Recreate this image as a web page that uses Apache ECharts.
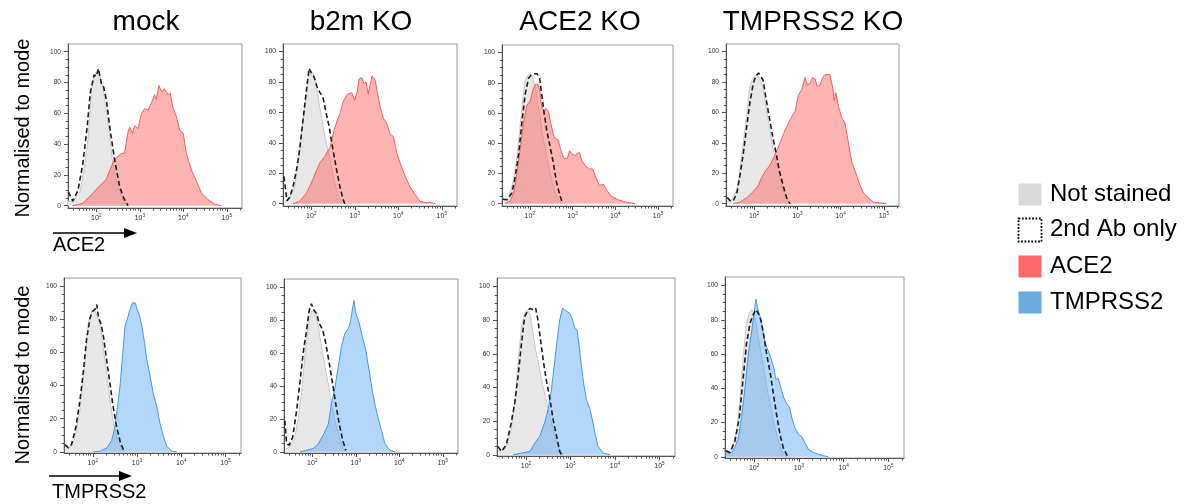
<!DOCTYPE html>
<html><head><meta charset="utf-8">
<script src="https://cdn.jsdelivr.net/npm/echarts@6/dist/echarts.min.js"></script>
<style>html,body{margin:0;padding:0;background:#fff}#c{width:1193px;height:504px}</style>
</head><body><div id="c"></div>
<script>
// ---------- labels ----------
const conditions = ['mock', 'b2m KO', 'ACE2 KO', 'TMPRSS2 KO'];
const markers = ['ACE2', 'TMPRSS2'];
const legendLabels = ['Not stained', '2nd Ab only', 'ACE2', 'TMPRSS2'];
const yAxisTitle = 'Normalised to mode';
const xTickExponents = [2, 3, 4, 5];          // ticks at 10^n (values are log10 intensity)
const yTickValues = [0, 20, 40, 60, 80, 100];

// ---------- data: [log10 intensity, % of mode] ----------
// ACE2 staining row
const ace2_mock_unstained = [[1.35,3],[1.43,2.6],[1.62,8],[1.73,25],[1.81,43],[1.89,75],[1.96,85],[2.0,87],[2.08,84],[2.15,77],[2.23,62],[2.31,45],[2.38,27],[2.5,12],[2.61,4],[2.7,0]];
const ace2_mock_2ndAb = [[1.36,9],[1.46,3],[1.58,10],[1.69,27],[1.79,51],[1.86,73],[1.95,85],[2.0,84],[2.05,89],[2.12,79],[2.17,77],[2.23,69],[2.32,49],[2.42,30],[2.54,12],[2.63,5],[2.73,0]];
const ace2_mock_stained = [[1.46,0],[1.69,1.5],[1.92,8],[2.08,13],[2.23,17],[2.31,23],[2.42,30],[2.58,34],[2.65,34],[2.73,48],[2.77,51],[2.83,47],[2.88,52],[2.96,50],[3.04,60],[3.11,63],[3.19,62],[3.27,67],[3.34,72],[3.38,69],[3.44,78],[3.5,74],[3.57,76],[3.65,72],[3.7,73],[3.76,64],[3.84,58],[3.92,49],[4.0,47],[4.07,34],[4.19,23],[4.3,16],[4.42,8],[4.57,4],[4.72,1],[4.87,0]];

const ace2_b2m_unstained = [[1.39,1.5],[1.5,4],[1.62,11],[1.7,27],[1.77,44],[1.85,64],[1.93,83],[1.98,88],[2.04,86],[2.1,81],[2.18,66],[2.26,53],[2.33,42],[2.43,29],[2.52,16],[2.62,5],[2.73,0]];
const ace2_b2m_2ndAb = [[1.37,18],[1.44,2],[1.5,4],[1.58,11],[1.66,22],[1.73,35],[1.81,55],[1.89,75],[1.95,89],[2.0,86],[2.07,83],[2.13,77],[2.2,73],[2.27,70],[2.33,61],[2.41,51],[2.49,37],[2.57,24],[2.66,11],[2.73,3],[2.77,0]];
const ace2_b2m_stained = [[1.58,0],[1.73,1.5],[1.89,7],[2.0,13.5],[2.12,22],[2.2,27],[2.31,31],[2.43,37],[2.52,48],[2.6,55],[2.66,59],[2.73,67],[2.83,72],[2.93,73],[3.0,68],[3.06,74],[3.1,82],[3.16,83],[3.21,79],[3.26,80],[3.31,72],[3.35,78],[3.4,84],[3.47,81],[3.52,73],[3.58,64],[3.66,56],[3.73,53],[3.81,46],[3.89,44],[3.97,33],[4.04,27],[4.16,18],[4.27,11],[4.39,6],[4.5,1.5],[4.66,0.5],[4.73,1],[4.85,0]];

const ace2_ace2ko_unstained = [[1.39,2.6],[1.51,4],[1.62,16],[1.7,31],[1.78,53],[1.84,70],[1.89,81],[1.95,85],[2.01,86],[2.07,83],[2.13,77],[2.18,68],[2.24,57],[2.32,42],[2.4,31],[2.48,20],[2.57,9],[2.67,2.6],[2.77,0]];
const ace2_ace2ko_2ndAb = [[1.37,3],[1.47,2.6],[1.58,7],[1.66,18],[1.74,33],[1.82,55],[1.89,72],[1.97,83],[2.03,85],[2.09,86],[2.17,86],[2.23,83],[2.28,72],[2.34,59],[2.4,48],[2.48,37],[2.55,27],[2.63,13.5],[2.71,5],[2.77,0]];
const ace2_ace2ko_stained = [[1.43,0.5],[1.54,1.5],[1.62,7],[1.7,20],[1.78,37],[1.85,53],[1.93,65],[2.01,68],[2.07,75],[2.13,79],[2.18,79],[2.23,76],[2.28,64],[2.34,61],[2.38,63],[2.44,61],[2.49,53],[2.57,44],[2.67,42],[2.72,36],[2.8,30],[2.88,30],[2.93,35],[2.98,33],[3.06,32],[3.16,34],[3.21,29],[3.29,25.5],[3.39,23],[3.47,23],[3.55,17],[3.63,12],[3.72,13],[3.8,9],[3.91,5],[4.07,2.6],[4.26,1],[4.46,0]];

const ace2_tmprss2ko_unstained = [[1.38,1.5],[1.48,2.6],[1.6,9],[1.67,22],[1.75,40],[1.83,59],[1.89,75],[1.94,81],[2.0,84],[2.06,85],[2.12,83],[2.2,77],[2.27,64],[2.35,51],[2.43,37],[2.51,27],[2.6,16],[2.69,7],[2.79,1.5],[2.87,0]];
const ace2_tmprss2ko_2ndAb = [[1.38,4],[1.46,1.5],[1.52,2],[1.6,7],[1.67,18],[1.75,33],[1.83,51],[1.9,66],[1.98,79],[2.04,84],[2.1,86],[2.15,84],[2.21,81],[2.27,70],[2.35,57],[2.43,44],[2.51,33],[2.58,22],[2.68,11],[2.75,4],[2.83,0]];
const ace2_tmprss2ko_stained = [[1.52,0],[1.67,1],[1.83,4],[1.98,8],[2.1,12],[2.17,17],[2.25,21],[2.37,25.5],[2.48,32],[2.6,40],[2.71,48],[2.83,55],[2.95,61],[3.02,71],[3.1,75],[3.18,83],[3.23,78],[3.29,79],[3.35,83],[3.41,82],[3.46,77],[3.52,78],[3.59,83],[3.64,85],[3.69,85],[3.75,85],[3.82,76],[3.85,68],[3.89,73],[3.95,64],[4.02,57],[4.1,53],[4.18,40],[4.26,27],[4.33,22],[4.43,13.5],[4.53,7],[4.64,4],[4.76,1],[4.91,0.5],[5.06,0]];

// TMPRSS2 staining row
const tmprss2_mock_unstained = [[1.37,3.4],[1.49,2.4],[1.6,9],[1.71,25],[1.79,45],[1.85,62],[1.9,78],[1.98,85],[2.04,86],[2.1,82],[2.17,76],[2.24,62],[2.32,47],[2.39,31],[2.47,17],[2.56,7],[2.66,1.4],[2.73,0]];
const tmprss2_mock_2ndAb = [[1.37,4.4],[1.45,2.4],[1.52,4.4],[1.62,15],[1.71,31],[1.79,49],[1.86,68],[1.94,81],[2.0,85],[2.05,86],[2.09,89],[2.13,81],[2.19,77],[2.24,70],[2.3,58],[2.38,43],[2.45,29],[2.54,15],[2.63,5],[2.71,0.4]];
const tmprss2_mock_stained = [[2.01,0],[2.17,0.4],[2.32,2.4],[2.43,7],[2.5,15],[2.56,27],[2.62,41],[2.68,60],[2.73,76],[2.78,80],[2.84,86],[2.9,90],[2.96,90],[2.99,87],[3.06,82],[3.11,76],[3.17,66],[3.22,56],[3.3,45],[3.37,35],[3.45,27],[3.52,17],[3.6,9],[3.67,3.4],[3.79,0.4],[3.9,0]];

const tmprss2_b2m_unstained = [[1.4,2],[1.49,3],[1.6,9],[1.68,21],[1.76,37],[1.83,58],[1.91,76],[1.96,84],[2.02,86],[2.08,84],[2.14,76],[2.21,64],[2.29,52],[2.37,41],[2.44,29],[2.52,19],[2.62,9],[2.71,2],[2.79,0]];
const tmprss2_b2m_2ndAb = [[1.37,19],[1.41,5],[1.47,4],[1.55,9],[1.64,25],[1.72,43],[1.79,60],[1.87,74],[1.93,86],[1.98,90],[2.04,86],[2.1,84],[2.16,78],[2.24,74],[2.31,66],[2.39,54],[2.47,41],[2.54,29],[2.62,17],[2.7,7],[2.77,1]];
const tmprss2_b2m_stained = [[1.72,0],[1.87,1],[2.02,2],[2.14,5],[2.25,10],[2.37,17],[2.44,29],[2.52,39],[2.6,52],[2.67,64],[2.75,72],[2.83,75],[2.88,79],[2.93,88],[2.96,92],[3.0,84],[3.06,80],[3.09,77],[3.15,70],[3.23,62],[3.31,49],[3.38,37],[3.44,29],[3.51,21],[3.59,13],[3.67,5],[3.78,1],[3.9,0]];

const tmprss2_ace2ko_unstained = [[1.37,3],[1.45,2],[1.56,5],[1.67,15],[1.75,31],[1.82,54],[1.9,76],[1.97,84],[2.03,86],[2.09,84],[2.15,74],[2.22,62],[2.3,52],[2.37,42],[2.45,33],[2.54,23],[2.63,13],[2.72,5],[2.84,0]];
const tmprss2_ace2ko_2ndAb = [[1.37,5],[1.45,2],[1.56,6],[1.67,19],[1.75,31],[1.82,46],[1.9,66],[1.97,82],[2.05,86],[2.1,87],[2.16,86],[2.22,87],[2.27,80],[2.33,68],[2.39,56],[2.46,44],[2.54,33],[2.61,21],[2.69,11],[2.76,2],[2.8,0]];
const tmprss2_ace2ko_stained = [[1.71,0],[1.9,1],[2.09,2],[2.2,7],[2.31,11],[2.42,19],[2.5,27],[2.57,38],[2.65,56],[2.7,68],[2.76,80],[2.82,87],[2.88,86],[2.93,85],[2.99,84],[3.05,80],[3.1,75],[3.15,74],[3.2,64],[3.25,52],[3.3,42],[3.36,33],[3.44,27],[3.5,20],[3.55,13],[3.62,5],[3.74,1],[3.89,0]];

const tmprss2_tmprss2ko_unstained = [[1.39,2.5],[1.5,4.5],[1.61,15],[1.69,35],[1.76,60],[1.83,78],[1.89,84],[1.95,86],[2.0,84],[2.06,76],[2.13,64],[2.21,53],[2.28,41],[2.36,31],[2.43,21],[2.52,11],[2.62,3.5],[2.73,0]];
const tmprss2_tmprss2ko_2ndAb = [[1.37,3.5],[1.46,2.5],[1.57,9],[1.67,23],[1.76,47],[1.83,66],[1.91,78],[1.98,83],[2.04,86],[2.09,84],[2.15,80],[2.21,72],[2.28,60],[2.36,49],[2.43,37],[2.5,25],[2.58,13],[2.65,5.5],[2.74,0.6]];
const tmprss2_tmprss2ko_stained = [[1.35,3.5],[1.42,2],[1.5,2.5],[1.57,5.5],[1.65,11],[1.72,23],[1.8,41],[1.87,60],[1.95,74],[2.0,84],[2.04,92],[2.07,88],[2.12,83],[2.17,78],[2.22,70],[2.28,64],[2.36,59],[2.43,53],[2.49,45],[2.54,46],[2.59,41],[2.67,34],[2.73,31],[2.79,29],[2.84,23],[2.91,17],[2.99,13],[3.06,12],[3.14,8],[3.21,4.5],[3.32,2.5],[3.44,1.5],[3.55,0.6],[3.66,0]];

// ---------- layout / styling ----------
const rowSpecs = [
  { ymin: -1.5, titleY: 128, lineColor: '#ff5a5a', fill: 'rgba(255,92,92,0.46)',
    boxes: [[68,44,174,164],[283,44,174,162],[502,45,171,161],[726,44,173,162]],
    sets: [
      [ace2_mock_unstained, ace2_mock_2ndAb, ace2_mock_stained],
      [ace2_b2m_unstained, ace2_b2m_2ndAb, ace2_b2m_stained],
      [ace2_ace2ko_unstained, ace2_ace2ko_2ndAb, ace2_ace2ko_stained],
      [ace2_tmprss2ko_unstained, ace2_tmprss2ko_2ndAb, ace2_tmprss2ko_stained]
    ] },
  { ymin: -0.7, titleY: 375, lineColor: '#4397f2', fill: 'rgba(74,158,245,0.42)',
    boxes: [[64,278,177,175],[284,279,174,174],[497,278,178,178],[725,277,179,181]],
    sets: [
      [tmprss2_mock_unstained, tmprss2_mock_2ndAb, tmprss2_mock_stained],
      [tmprss2_b2m_unstained, tmprss2_b2m_2ndAb, tmprss2_b2m_stained],
      [tmprss2_ace2ko_unstained, tmprss2_ace2ko_2ndAb, tmprss2_ace2ko_stained],
      [tmprss2_tmprss2ko_unstained, tmprss2_tmprss2ko_2ndAb, tmprss2_tmprss2ko_stained]
    ] }
];

const XMIN = 1.35, XMAX = 5.35, YMAX = 105;
const minorX = [];
for (let d = 1; d <= 5; d++) for (let k = 2; k <= 9; k++) {
  const v = d + Math.log10(k);
  if (v > XMIN && v < XMAX) minorX.push(v);
}
const minorY = [];
for (let v = 5; v <= 104; v += 5) if (v % 20 !== 0) minorY.push(v);

const axisColor = '#555';
const labelColor = '#333';
const grids = [], xAxes = [], yAxes = [], series = [];
let gi = 0;
rowSpecs.forEach((row) => {
  row.boxes.forEach((b, ci) => {
    grids.push({ left: b[0], top: b[1], width: b[2], height: b[3], show: true,
      borderColor: '#9a9a9a', borderWidth: 1, backgroundColor: '#fff', containLabel: false });
    xAxes.push({ gridIndex: gi, type: 'value', min: XMIN, max: XMAX, position: 'bottom',
      axisLine: { show: true, onZero: false, lineStyle: { color: axisColor, width: 1 } },
      axisTick: { show: true, customValues: xTickExponents, length: 4, lineStyle: { color: axisColor } },
      axisLabel: { show: true, customValues: xTickExponents, margin: 5,
        formatter: v => '{b|10}{s|' + Math.round(v) + '}',
        rich: { b: { fontSize: 7, color: labelColor, fontFamily: 'Liberation Sans', lineHeight: 9, verticalAlign: 'bottom' },
                s: { fontSize: 4.6, color: labelColor, fontFamily: 'Liberation Sans', verticalAlign: 'top', lineHeight: 9 } } },
      splitLine: { show: false } });
    xAxes.push({ gridIndex: gi, type: 'value', min: XMIN, max: XMAX, position: 'bottom',
      axisLine: { show: false, onZero: false },
      axisTick: { show: true, customValues: minorX, length: 2.5, lineStyle: { color: axisColor } },
      axisLabel: { show: false }, splitLine: { show: false } });
    yAxes.push({ gridIndex: gi, type: 'value', min: row.ymin, max: YMAX, position: 'left',
      axisLine: { show: true, onZero: false, lineStyle: { color: axisColor, width: 1 } },
      axisTick: { show: true, customValues: yTickValues, length: 4, lineStyle: { color: axisColor } },
      axisLabel: { show: true, customValues: yTickValues, margin: 7, fontSize: 6.6, color: labelColor,
        fontFamily: 'Liberation Sans' },
      splitLine: { show: false } });
    yAxes.push({ gridIndex: gi, type: 'value', min: row.ymin, max: YMAX, position: 'left',
      axisLine: { show: false, onZero: false },
      axisTick: { show: true, customValues: minorY, length: 2.3, lineStyle: { color: axisColor } },
      axisLabel: { show: false }, splitLine: { show: false } });
    const [u, d, s] = row.sets[ci];
    const xi = gi * 2, yi = gi * 2;
    series.push({ type: 'line', xAxisIndex: xi, yAxisIndex: yi, data: u, symbol: 'none', silent: true,
      lineStyle: { color: '#c9c9c9', width: 1 }, areaStyle: { color: '#e7e7e7', opacity: 1 }, z: 1 });
    series.push({ type: 'line', xAxisIndex: xi, yAxisIndex: yi, data: s, symbol: 'none', silent: true,
      lineStyle: { color: row.lineColor, width: 1 }, areaStyle: { color: row.fill, opacity: 1 }, z: 2 });
    series.push({ type: 'line', xAxisIndex: xi, yAxisIndex: yi, data: d, symbol: 'none', silent: true,
      lineStyle: { color: '#1c1c1c', width: 1.6, type: [5, 3] }, z: 3 });
    gi++;
  });
});

// ---------- text / legend graphics ----------
const font = 'Liberation Sans, Arial, sans-serif';
const titleCenters = [146, 361, 580, 813];
const graphics = [];
conditions.forEach((t, i) => graphics.push({ type: 'text', x: titleCenters[i], y: 22,
  style: { text: t, fontSize: 28, fontFamily: font, fill: '#000', textAlign: 'center', textVerticalAlign: 'middle' } }));
rowSpecs.forEach(row => graphics.push({ type: 'text', x: 23, y: row.titleY, rotation: Math.PI / 2,
  style: { text: yAxisTitle, fontSize: 20, fontFamily: font, fill: '#000', textAlign: 'center', textVerticalAlign: 'middle' } }));
// marker arrows + names
const arrowSpecs = [{ x1: 53, x2: 137, y: 233, ty: 245, tx: 53 }, { x1: 49, x2: 132, y: 476, ty: 492, tx: 52 }];
arrowSpecs.forEach((a, i) => {
  graphics.push({ type: 'line', shape: { x1: a.x1, y1: a.y, x2: a.x2 - 10, y2: a.y }, style: { stroke: '#000', lineWidth: 1.3 } });
  graphics.push({ type: 'polygon', shape: { points: [[a.x2 - 13, a.y - 5], [a.x2, a.y], [a.x2 - 13, a.y + 5]] }, style: { fill: '#000' } });
  graphics.push({ type: 'text', x: a.tx, y: a.ty,
    style: { text: markers[i], fontSize: 20, fontFamily: font, fill: '#000', textAlign: 'left', textVerticalAlign: 'middle' } });
});
// legend
const legendYs = [194, 229, 266, 302];
const legendBoxes = [
  { y: 183, h: 22, fill: '#d9d9d9', stroke: null },
  { y: 218, h: 23, fill: '#fff', stroke: '#000' },
  { y: 255, h: 22, fill: '#fe6868', stroke: null },
  { y: 291, h: 22, fill: '#6aaadc', stroke: null }
];
legendBoxes.forEach((b, i) => {
  const st = b.stroke ? { fill: b.fill, stroke: b.stroke, lineWidth: 1.8, lineDash: [1.8, 1.6] } : { fill: b.fill };
  graphics.push({ type: 'rect', shape: { x: 1018.5, y: b.y + 0.5, width: 23, height: b.h }, style: st });
  graphics.push({ type: 'text', x: 1050, y: legendYs[i],
    style: { text: legendLabels[i], fontSize: 24, fontFamily: font, fill: '#000', textAlign: 'left', textVerticalAlign: 'middle' } });
});

const chart = echarts.init(document.getElementById('c'), null, { renderer: 'canvas' });
chart.setOption({
  animation: false,
  backgroundColor: '#fff',
  grid: grids, xAxis: xAxes, yAxis: yAxes, series: series,
  graphic: graphics
});
</script></body></html>
